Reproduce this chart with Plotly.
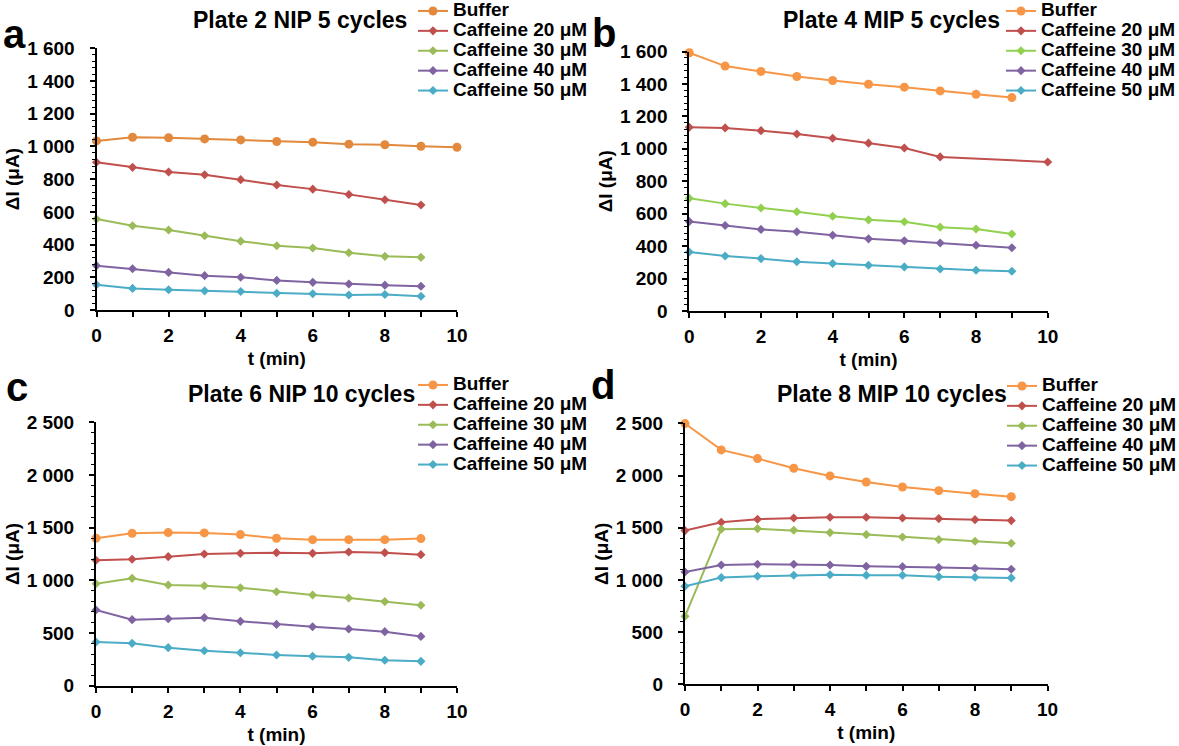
import plotly.graph_objects as go

W, H = 1179, 746
FONT = "Liberation Sans, Arial, sans-serif"

# ---- data -------------------------------------------------------------
t_full = [0, 1, 2, 3, 4, 5, 6, 7, 8, 9, 10]
t9 = [0, 1, 2, 3, 4, 5, 6, 7, 8, 9]

series_names = ["Buffer", "Caffeine 20 μM", "Caffeine 30 μM",
                "Caffeine 40 μM", "Caffeine 50 μM"]

# Plate 2 NIP 5 cycles
a_buffer = [1034, 1056, 1053, 1046, 1040, 1030, 1026, 1014, 1010, 1001, 995]
a_c20 = [903, 872, 844, 827, 797, 764, 739, 706, 674, 642]
a_c30 = [556, 515, 489, 454, 421, 393, 379, 350, 328, 322]
a_c40 = [271, 252, 230, 210, 200, 181, 169, 159, 152, 145]
a_c50 = [155, 132, 124, 117, 113, 102, 99, 92, 95, 84]

# Plate 4 MIP 5 cycles
b_buffer = [1592, 1510, 1477, 1446, 1421, 1398, 1380, 1357, 1336, 1316]
b_c20_t = [0, 1, 2, 3, 4, 5, 6, 7, 10]
b_c20 = [1133, 1129, 1112, 1091, 1065, 1035, 1005, 950, 919]
b_c30 = [695, 662, 635, 612, 584, 562, 550, 517, 506, 475]
b_c40 = [552, 527, 503, 489, 467, 445, 433, 419, 405, 390]
b_c50 = [364, 339, 323, 304, 293, 282, 272, 259, 251, 245]

# Plate 6 NIP 10 cycles
c_buffer = [1399, 1446, 1453, 1450, 1434, 1399, 1386, 1386, 1386, 1396]
c_c20 = [1190, 1200, 1225, 1250, 1256, 1263, 1256, 1269, 1263, 1244]
c_c30 = [968, 1019, 956, 949, 930, 892, 861, 832, 798, 763]
c_c40 = [718, 627, 636, 646, 611, 582, 560, 538, 513, 468]
c_c50 = [415, 402, 361, 332, 313, 291, 279, 269, 241, 231]

# Plate 8 MIP 10 cycles
d_buffer = [2497, 2245, 2162, 2069, 1996, 1938, 1890, 1855, 1826, 1797]
d_c20 = [1472, 1552, 1581, 1593, 1600, 1600, 1593, 1587, 1577, 1568]
d_c30 = [651, 1485, 1491, 1475, 1453, 1434, 1411, 1386, 1370, 1351]
d_c40 = [1076, 1143, 1150, 1150, 1143, 1130, 1127, 1118, 1111, 1102]
d_c50 = [939, 1022, 1035, 1044, 1050, 1044, 1044, 1031, 1025, 1019]

x_tickvals = [0, 1, 2, 3, 4, 5, 6, 7, 8, 9, 10]
x_ticktext = ["0", "", "2", "", "4", "", "6", "", "8", "", "10"]
y_tick_1600 = [0, 200, 400, 600, 800, 1000, 1200, 1400, 1600]
y_text_1600 = ["0", "200", "400", "600", "800", "1 000", "1 200", "1 400", "1 600"]
y_tick_2500 = [0, 500, 1000, 1500, 2000, 2500]
y_text_2500 = ["0", "500", "1 000", "1 500", "2 000", "2 500"]

# ---- styling ----------------------------------------------------------
RED, PURPLE, CYAN = "#C0504D", "#8064A2", "#4BACC6"
GREEN, LIME = "#9BBB59", "#92D050"
ORANGE, ORANGE_DARK = "#F79646", "#E2893D"


def px_x(v):
    return v / W


def px_y(v):
    return 1 - v / H


panels = [
    dict(key="a", title="Plate 2 NIP 5 cycles",
         series=[(t_full, a_buffer), (t9, a_c20), (t9, a_c30), (t9, a_c40), (t9, a_c50)],
         colors=[ORANGE_DARK, RED, GREEN, PURPLE, CYAN],
         xdom=(96.5, 457), ydom=(48.3, 310),
         yticks=(y_tick_1600, y_text_1600), ymax=1600, minor=40,
         title_xy=(300, 20), letter_xy=(15, 34), legend_xy=(413, -4)),
    dict(key="b", title="Plate 4 MIP 5 cycles",
         series=[(t9, b_buffer), (b_c20_t, b_c20), (t9, b_c30), (t9, b_c40), (t9, b_c50)],
         colors=[ORANGE, RED, LIME, PURPLE, CYAN],
         xdom=(689.3, 1047.7), ydom=(51.5, 311),
         yticks=(y_tick_1600, y_text_1600), ymax=1600, minor=40,
         title_xy=(891.5, 20), letter_xy=(604, 33), legend_xy=(1001, -4)),
    dict(key="c", title="Plate 6 NIP 10 cycles",
         series=[(t9, c_buffer), (t9, c_c20), (t9, c_c30), (t9, c_c40), (t9, c_c50)],
         colors=[ORANGE, RED, GREEN, PURPLE, CYAN],
         xdom=(96, 457), ydom=(422.3, 685.7),
         yticks=(y_tick_2500, y_text_2500), ymax=2500, minor=100,
         title_xy=(301, 394), letter_xy=(17, 387), legend_xy=(413, 370)),
    dict(key="d", title="Plate 8 MIP 10 cycles",
         series=[(t9, d_buffer), (t9, d_c20), (t9, d_c30), (t9, d_c40), (t9, d_c50)],
         colors=[ORANGE, RED, GREEN, PURPLE, CYAN],
         xdom=(685, 1047.5), ydom=(423.3, 684.3),
         yticks=(y_tick_2500, y_text_2500), ymax=2500, minor=100,
         title_xy=(892, 394), letter_xy=(603, 385), legend_xy=(1002, 371)),
]

fig = go.Figure()
annotations = []
layout = {}

for i, p in enumerate(panels):
    n = "" if i == 0 else str(i + 1)
    xa, ya = "x" + n, "y" + n
    leg = "legend" + n

    for j, ((xs, ys), name, col) in enumerate(zip(p["series"], series_names, p["colors"])):
        fig.add_trace(go.Scatter(
            x=xs, y=ys, xaxis=xa, yaxis=ya,
            mode="lines+markers",
            name='<span style="font-size:19px">' + name + "</span>",
            legend=leg,
            line=dict(color=col, width=2),
            marker=dict(symbol="circle" if j == 0 else "diamond",
                        size=9 if j == 0 else 7, color=col),
            cliponaxis=False,
        ))

    axis_font = dict(family=FONT, size=19, color="black", weight="bold")
    layout["xaxis" + n] = dict(
        domain=[px_x(p["xdom"][0]), px_x(p["xdom"][1])],
        anchor=ya, range=[0, 10], showgrid=False, zeroline=False,
        showline=True, linecolor="black", linewidth=2,
        ticks="outside", ticklen=5, tickwidth=1.5, tickcolor="black",
        tickmode="array", tickvals=x_tickvals, ticktext=x_ticktext,
        tickfont=axis_font, ticklabelstandoff=2,
        title=dict(text="t (min)", standoff=7,
                   font=dict(family=FONT, size=19, color="black", weight="bold")),
    )
    layout["yaxis" + n] = dict(
        domain=[px_y(p["ydom"][1]), px_y(p["ydom"][0])],
        anchor=xa, range=[0, p["ymax"]], showgrid=False, zeroline=False,
        showline=True, linecolor="black", linewidth=2,
        ticks="outside", ticklen=5, tickwidth=1.5, tickcolor="black",
        tickmode="array", tickvals=p["yticks"][0], ticktext=p["yticks"][1],
        tickfont=axis_font, ticklabelstandoff=11,
        minor=dict(tickmode="linear", tick0=0, dtick=p["minor"], ticks="outside",
                   ticklen=3, tickwidth=1, tickcolor="black", showgrid=False),
        title=dict(text="ΔI (μA)", standoff=2,
                   font=dict(family=FONT, size=19, color="black", weight="bold")),
    )
    layout[leg] = dict(
        x=px_x(p["legend_xy"][0]), y=px_y(p["legend_xy"][1]),
        xanchor="left", yanchor="top", bgcolor="rgba(0,0,0,0)",
        font=dict(family=FONT, size=13, color="black", weight="bold"),
        borderwidth=0,
    )

    annotations.append(dict(
        text=p["title"], x=px_x(p["title_xy"][0]), y=px_y(p["title_xy"][1]),
        xref="paper", yref="paper", xanchor="center", yanchor="middle",
        showarrow=False,
        font=dict(family=FONT, size=23, color="black", weight="bold"),
    ))
    annotations.append(dict(
        text=p["key"], x=px_x(p["letter_xy"][0]), y=px_y(p["letter_xy"][1]),
        xref="paper", yref="paper", xanchor="center", yanchor="middle",
        showarrow=False,
        font=dict(family=FONT, size=40, color="black", weight="bold"),
    ))

fig.update_layout(
    width=W, height=H,
    margin=dict(l=0, r=0, t=0, b=0, autoexpand=False),
    paper_bgcolor="white", plot_bgcolor="white",
    font=dict(family=FONT, color="black"),
    annotations=annotations,
    showlegend=True,
    **layout,
)

fig.write_html("out.html")
